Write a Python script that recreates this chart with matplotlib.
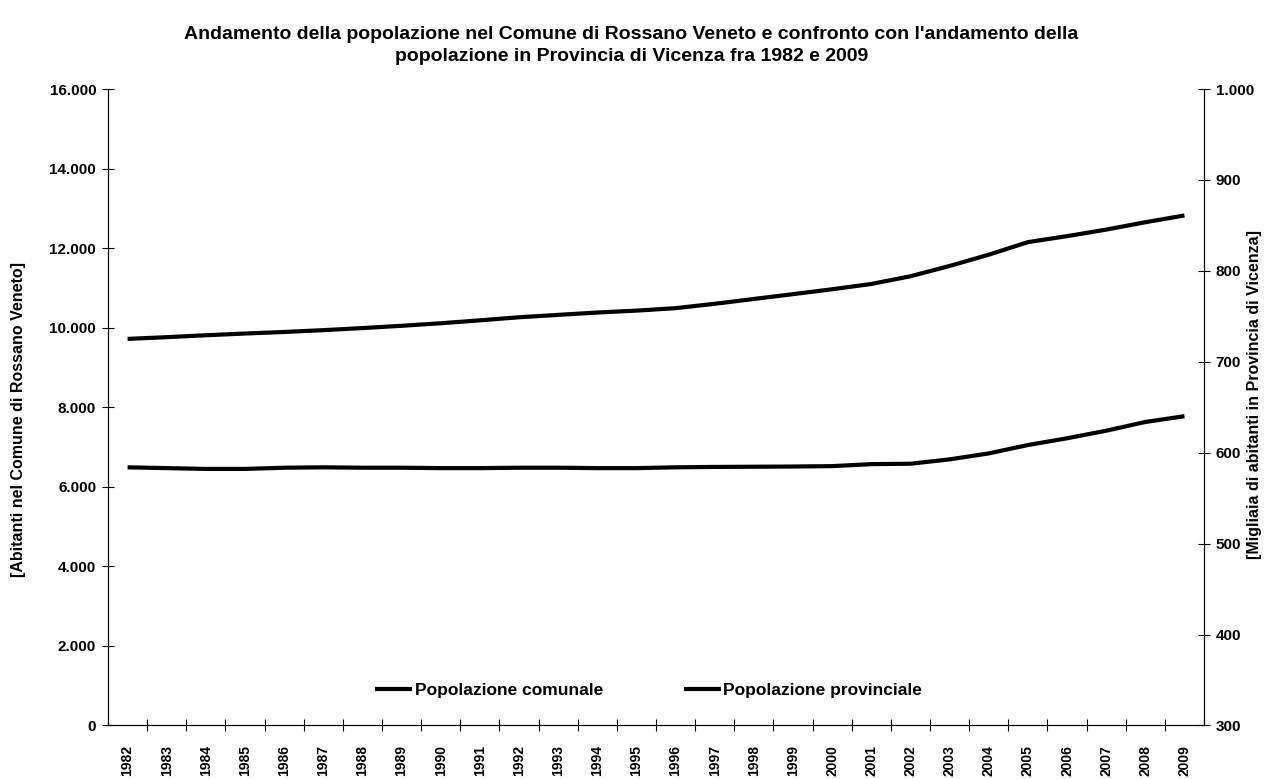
import matplotlib
matplotlib.use("Agg")
import matplotlib.pyplot as plt
from matplotlib.ticker import FuncFormatter, MultipleLocator, FixedLocator

plt.rcParams['font.family'] = ['Liberation Sans', 'DejaVu Sans']

anni = [str(a) for a in range(1982, 2010)]
# abitanti nel Comune di Rossano Veneto (asse sinistro)
pop_comunale = [6490, 6470, 6450, 6450, 6480, 6490, 6480, 6480, 6470, 6470,
                6480, 6480, 6470, 6470, 6490, 6500, 6505, 6510, 6520, 6570,
                6580, 6690, 6840, 7050, 7220, 7410, 7630, 7775]
# migliaia di abitanti in Provincia di Vicenza (asse destro)
pop_provinciale = [725.2, 727.1, 729.2, 731.1, 732.8, 734.8, 737.1, 739.6,
                   742.4, 745.6, 749.0, 751.6, 754.2, 756.3, 759.0, 763.8,
                   769.1, 774.4, 779.8, 785.6, 794.1, 805.4, 817.8, 831.6,
                   838.2, 845.4, 853.5, 861.0]

titolo = ("Andamento della popolazione nel Comune di Rossano Veneto e confronto con l'andamento della\n"
          "popolazione in Provincia di Vicenza fra 1982 e 2009")


def punti(v, pos):
    return f"{v:,.0f}".replace(",", ".")


fig = plt.figure(figsize=(12.65, 7.79), dpi=100)
ax = fig.add_axes([0.0854, 0.0687, 0.8664, 0.817])
ax2 = ax.twinx()

x = list(range(len(anni)))
l1, = ax.plot(x, pop_comunale, color='black', lw=3.0, solid_capstyle='butt')
l2, = ax2.plot(x, pop_provinciale, color='black', lw=3.0, solid_capstyle='butt')

ax.set_xlim(-0.5, len(anni) - 0.5)
ax.set_ylim(0, 16000)
ax2.set_ylim(300, 1000)
ax.yaxis.set_major_locator(MultipleLocator(2000))
ax2.yaxis.set_major_locator(MultipleLocator(100))
ax.yaxis.set_major_formatter(FuncFormatter(punti))
ax2.yaxis.set_major_formatter(FuncFormatter(punti))

ax.set_xticks(x)
ax.set_xticklabels(anni, rotation=90, fontsize=10, fontweight='bold')
ax.tick_params(axis='x', which='major', length=0, pad=14)
ax.xaxis.set_minor_locator(FixedLocator([i - 0.5 for i in range(1, len(anni))]))
ax.tick_params(axis='x', which='minor', direction='inout', length=8, width=0.8)

ax.tick_params(axis='y', direction='inout', length=9, width=0.8, pad=4, labelsize=11)
ax2.tick_params(axis='y', direction='inout', length=9, width=0.8, pad=4, labelsize=11)
for lab in ax.get_yticklabels() + ax2.get_yticklabels():
    lab.set_fontweight('bold')

for a in (ax, ax2):
    a.spines['top'].set_visible(False)
    for s in ('left', 'right', 'bottom'):
        a.spines[s].set_linewidth(0.8)

ax.set_ylabel('[Abitanti nel Comune di Rossano Veneto]', fontsize=11.5, fontweight='bold')
ax.yaxis.set_label_coords(-0.075, 0.48)
ax2.set_ylabel('[Migliaia di abitanti in Provincia di Vicenza]', fontsize=11.5,
               fontweight='bold', rotation=90)
ax2.yaxis.set_label_coords(1.039, 0.52)

ax.legend([l1, l2], ['Popolazione comunale', 'Popolazione provinciale'],
          loc='center left', bbox_to_anchor=(0.244, 0.055), ncol=2, frameon=False,
          borderpad=0, borderaxespad=0, handlelength=2.1, handletextpad=0.15,
          columnspacing=4.7, prop={'size': 12.5, 'weight': 'bold'})

fig.text(0.499, 0.967, titolo, ha='center', va='top', fontsize=14,
         fontweight='bold', linespacing=1.4)

fig.savefig('out.png', dpi=100)
